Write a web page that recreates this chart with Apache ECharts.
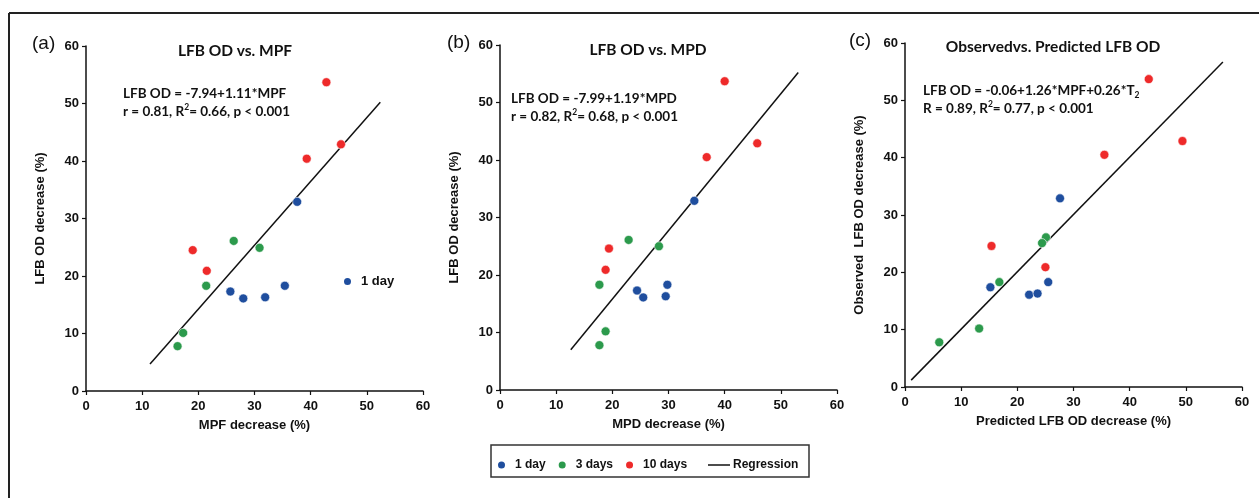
<!DOCTYPE html>
<html>
<head>
<meta charset="utf-8">
<script src="https://cdn.jsdelivr.net/npm/echarts@6/dist/echarts.min.js"></script>
<style>
  html, body { margin: 0; padding: 0; background: #fff; }
  #vis { width: 1259px; height: 498px; }
</style>
</head>
<body>
<div id="vis"></div>
<script>
// values, [x, y] per point
const groups = ['1 day', '3 days', '10 days']
const colors = ['#1f4e9e', '#2c9a4c', '#ee2a2a']

// (a) LFB OD vs. MPF
const mpf1 = [[37.6, 32.9], [25.7, 17.3], [28.0, 16.1], [31.9, 16.3], [35.4, 18.3]]
const mpf3 = [[26.3, 26.1], [30.9, 24.9], [21.4, 18.3], [17.3, 10.1], [16.3, 7.8]]
const mpf10 = [[42.8, 53.7], [45.4, 42.9], [39.3, 40.4], [19.0, 24.5], [21.5, 20.9]]
const mpfFit = [[11.4, 4.7], [52.4, 50.2]]

// (b) LFB OD vs. MPD
const mpd1 = [[34.6, 32.9], [24.4, 17.3], [25.5, 16.1], [29.5, 16.3], [29.8, 18.3]]
const mpd3 = [[22.9, 26.1], [28.3, 25.0], [17.7, 18.3], [18.8, 10.2], [17.7, 7.8]]
const mpd10 = [[40.0, 53.7], [45.8, 42.9], [36.8, 40.5], [19.4, 24.6], [18.8, 20.9]]
const mpdFit = [[12.6, 7.0], [53.1, 55.2]]

// (c) Observed vs. Predicted
const pred1 = [[27.6, 32.9], [15.2, 17.4], [22.1, 16.1], [23.6, 16.3], [25.5, 18.3]]
const pred3 = [[25.1, 26.1], [24.4, 25.1], [16.8, 18.3], [13.2, 10.2], [6.1, 7.8]]
const pred10 = [[43.4, 53.7], [49.4, 42.9], [35.5, 40.5], [15.4, 24.6], [25.0, 20.9]]
const predFit = [[1.1, 1.2], [56.6, 56.7]]

const tickMin = 0
const tickMax = 60
const tickStep = 10

const panels = [
  { tag: '(a)', title: 'LFB OD vs. MPF', xName: 'MPF decrease (%)', yName: 'LFB OD decrease (%)',
    sets: [mpf1, mpf3, mpf10], fit: mpfFit,
    eq: 'LFB OD = -7.94+1.11*MPF', stat: 'r = 0.81, R{sup|2}= 0.66, p < 0.001' },
  { tag: '(b)', title: 'LFB OD vs. MPD', xName: 'MPD decrease (%)', yName: 'LFB OD decrease (%)',
    sets: [mpd1, mpd3, mpd10], fit: mpdFit,
    eq: 'LFB OD = -7.99+1.19*MPD', stat: 'r = 0.82, R{sup|2}= 0.68, p < 0.001' },
  { tag: '(c)', title: 'Observedvs. Predicted LFB OD', xName: 'Predicted LFB OD decrease (%)', yName: 'Observed  LFB OD decrease (%)',
    sets: [pred1, pred3, pred10], fit: predFit,
    eq: 'LFB OD = -0.06+1.26*MPF+0.26*T{sub|2}', stat: 'R = 0.89, R{sup|2}= 0.77, p < 0.001' }
]

// layout of the three plot boxes
const boxes = [
  { left: 86, top: 46, width: 337, height: 345, tagX: 32, titleX: 235, titleY: 51, eqX: 123, eqY: 85 },
  { left: 500, top: 45, width: 337, height: 345, tagX: 447, titleX: 648, titleY: 50, eqX: 511, eqY: 90 },
  { left: 905, top: 43, width: 337, height: 344, tagX: 849, titleX: 1053, titleY: 47, eqX: 923, eqY: 82 }
]

const axisFont = 'Arial, "Liberation Sans", sans-serif'
const noteFont = 'Lato, "Open Sans", sans-serif'

const grid = []
const xAxis = []
const yAxis = []
const series = []
const graphic = []

panels.forEach((p, i) => {
  const b = boxes[i]
  grid.push({ left: b.left, top: b.top, width: b.width, height: b.height, containLabel: false })
  const common = {
    type: 'value', min: tickMin, max: tickMax, interval: tickStep, gridIndex: i,
    nameLocation: 'middle',
    nameTextStyle: { fontFamily: axisFont, fontWeight: 'bold', fontSize: 13, color: '#111' },
    axisLine: { show: true, onZero: false, lineStyle: { color: '#111', width: 1.5 } },
    axisTick: { show: true, inside: false, length: 4, lineStyle: { color: '#111', width: 1.2 } },
    axisLabel: { fontFamily: axisFont, fontWeight: 'bold', fontSize: 13, color: '#111' },
    splitLine: { show: false }
  }
  xAxis.push(Object.assign({}, common, { name: p.xName, nameGap: 28, axisLabel: Object.assign({}, common.axisLabel, { margin: 9 }) }))
  yAxis.push(Object.assign({}, common, { name: p.yName, nameGap: 39, axisLabel: Object.assign({}, common.axisLabel, { margin: 7 }) }))

  p.sets.forEach((d, k) => {
    series.push({
      name: groups[k], type: 'scatter', xAxisIndex: i, yAxisIndex: i,
      data: d, symbol: 'circle', symbolSize: 9,
      itemStyle: { color: colors[k], opacity: 1, borderColor: '#ffffff', borderWidth: 0.6 }
    })
  })
  series.push({
    name: 'Regression', type: 'line', xAxisIndex: i, yAxisIndex: i,
    data: p.fit, symbol: 'none', itemStyle: { color: '#111' },
    lineStyle: { color: '#111', width: 1.5 }, z: 1
  })

  graphic.push({ type: 'text', left: b.tagX, top: b.top - 12,
    style: { text: p.tag, fontFamily: axisFont, fontSize: 19, fill: '#111' } })
  graphic.push({ type: 'text', x: b.titleX, y: b.titleY,
    style: { text: p.title, fontFamily: noteFont, fontWeight: 'bold', fontSize: 15.5, fill: '#111',
      align: 'center', verticalAlign: 'middle' } })
  graphic.push({ type: 'text', x: b.eqX, y: b.eqY,
    style: {
      text: p.eq + '\n' + p.stat, fontFamily: noteFont, fontWeight: 'bold', fontSize: 13.5,
      lineHeight: 18, fill: '#111',
      rich: {
        sup: { fontFamily: noteFont, fontWeight: 'bold', fontSize: 8.5, fill: '#111', verticalAlign: 'top', lineHeight: 18, padding: [0, 0, 6, 0] },
        sub: { fontFamily: noteFont, fontWeight: 'bold', fontSize: 8.5, fill: '#111', verticalAlign: 'bottom', lineHeight: 18, padding: [6, 0, 0, 0] }
      }
    } })
})

// outer frame lines of the figure
graphic.push({ type: 'line', shape: { x1: 9, y1: 13, x2: 1259, y2: 13 }, style: { stroke: '#222', lineWidth: 2 } })
graphic.push({ type: 'line', shape: { x1: 9, y1: 13, x2: 9, y2: 498 }, style: { stroke: '#222', lineWidth: 2 } })
// bottom legend frame
graphic.push({ type: 'rect', shape: { x: 491, y: 445, width: 318, height: 32 }, style: { fill: 'none', stroke: '#333', lineWidth: 1.5 } })

const legendText = { fontFamily: axisFont, fontWeight: 'bold', fontSize: 12, color: '#111', padding: [0, 0, 0, 4] }

const option = {
  animation: false,
  backgroundColor: '#fff',
  grid,
  xAxis,
  yAxis,
  series,
  graphic,
  legend: [
    { data: groups, left: 491, top: 454, itemWidth: 9, itemHeight: 9, itemGap: 11,
      icon: 'circle', textStyle: legendText, selectedMode: false },
    { data: [{ name: 'Regression', icon: 'rect' }], left: 703, top: 454, itemWidth: 22, itemHeight: 1.5, itemGap: 2,
      textStyle: Object.assign({}, legendText, { padding: [0, 0, 0, -2] }), selectedMode: false },
    { data: ['1 day'], left: 337, top: 270, itemWidth: 9, itemHeight: 9,
      icon: 'circle', textStyle: Object.assign({}, legendText, { fontSize: 13 }), selectedMode: false }
  ]
}

const chart = echarts.init(document.getElementById('vis'))
chart.setOption(option)
</script>
</body>
</html>
